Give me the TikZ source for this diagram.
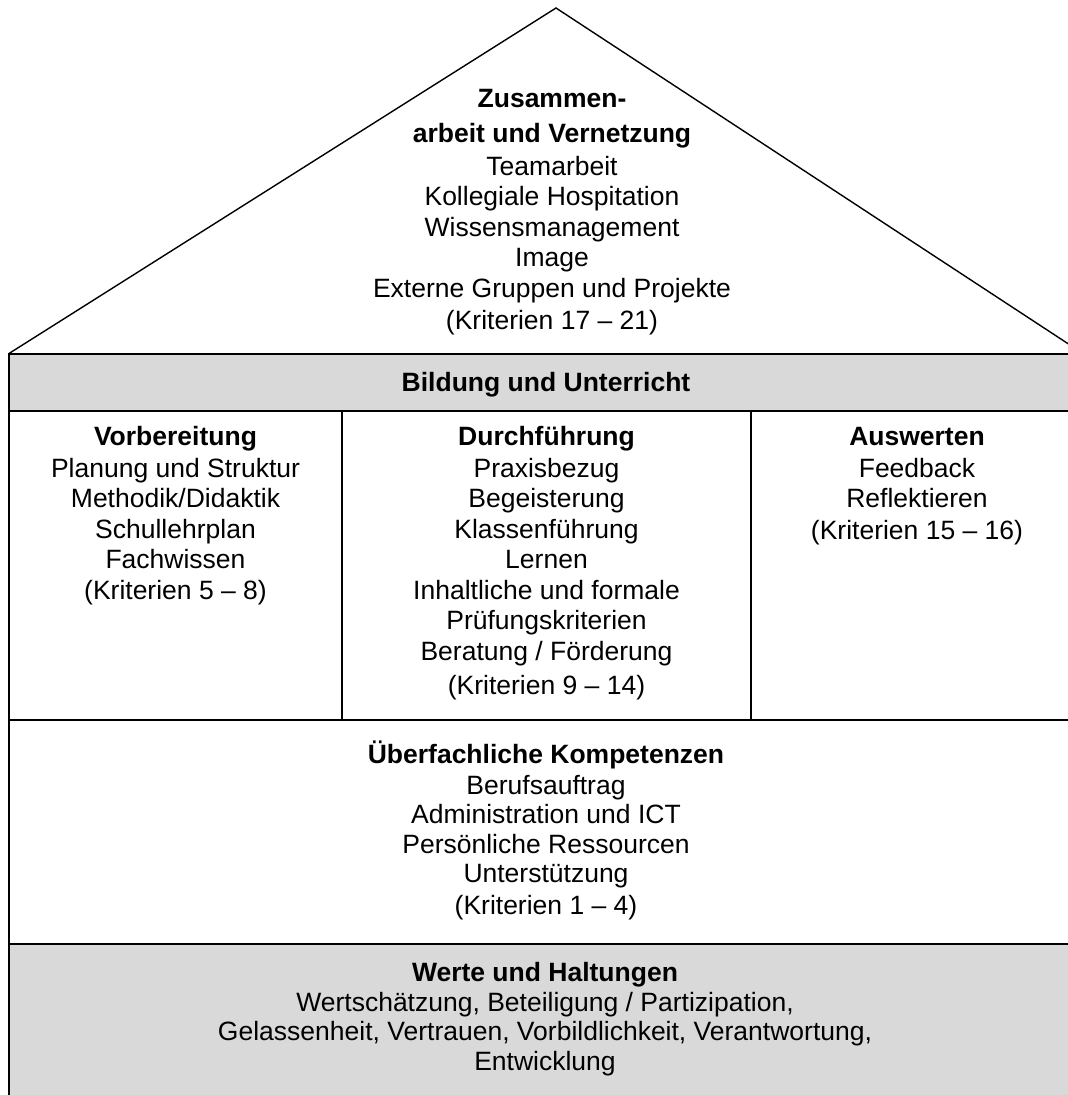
\documentclass[tikz,border=0pt]{standalone}
\usepackage{fontspec}
\setmainfont{Liberation Sans}
\definecolor{bandgray}{RGB}{217,217,217}
\tikzset{
  boxline/.style={line width=2pt, draw=black},
  divline/.style={line width=1.8pt, draw=black},
  roofline/.style={line width=1.4pt, draw=black, line join=miter},
  txt/.style={anchor=base, inner sep=0pt, outer sep=0pt,
    font=\fontsize{26.5}{30.5}\selectfont},
}
\newcommand{\rows}[1]{\begin{tabular}[t]{@{}c@{}}#1\end{tabular}}
\begin{document}
\begin{tikzpicture}[x=1pt,y=-1pt]
\useasboundingbox (0,0) rectangle (1068,1095);
\clip (0,0) rectangle (1068,1095);
\fill[white] (0,0) rectangle (1068,1095);
% roof
\draw[roofline] (9,353.5) -- (556,8) -- (1083,353.5);
% band Bildung
\filldraw[boxline, fill=bandgray] (9,353.5) rectangle (1083,411);
% columns
\draw[boxline] (9,411) rectangle (1083,720);
\draw[divline] (342,411) -- (342,720);
\draw[divline] (751,411) -- (751,720);
% Ueberfachliche
\draw[boxline] (9,720) rectangle (1083,944);
% Werte band
\filldraw[boxline, fill=bandgray] (9,944) rectangle (1083,1120);

\node[txt] (roof) at (552,107) {\rows{\textbf{Zusammen-}\\[4.5pt]
  \textbf{arbeit und Vernetzung}\\[2.5pt]
  Teamarbeit\\ Kollegiale Hospitation\\ Wissensmanagement\\ Image\\
  Externe Gruppen und Projekte\\[1.5pt] (Kriterien 17 – 21)}};
\node[txt] (bildung) at (546,391) {\textbf{Bildung und Unterricht}};
\node[txt] (vorb) at (175.5,445) {\rows{\textbf{Vorbereitung}\\[1.5pt]
  Planung und Struktur\\ Methodik/Didaktik\\ Schullehrplan\\ Fachwissen\\[0.5pt]
  (Kriterien 5 – 8)}};
\node[txt] (durch) at (546.5,445) {\rows{\textbf{Durchführung}\\[1.5pt]
  Praxisbezug\\ Begeisterung\\ Klassenführung\\ Lernen\\
  Inhaltliche und formale\\ Prüfungskriterien\\ Beratung / Förderung\\[4pt]
  (Kriterien 9 – 14)}};
\node[txt] (ausw) at (917,445) {\rows{\textbf{Auswerten}\\[1.5pt]
  Feedback\\ Reflektieren\\[1pt] (Kriterien 15 – 16)}};
\node[txt] (ueber) at (546,763) {\rows{\textbf{Überfachliche Kompetenzen}\\[0.5pt]
  Berufsauftrag\\[-1pt] Administration und ICT\\[-1pt] Persönliche Ressourcen\\[-1pt]
  Unterstützung\\[1pt] (Kriterien 1 – 4)}};
\node[txt] (werte) at (545,981) {\rows{\textbf{Werte und Haltungen}\\[-0.5pt]
  Wertschätzung, Beteiligung / Partizipation,\\[-1pt]
  Gelassenheit, Vertrauen, Vorbildlichkeit, Verantwortung,\\[-1pt]
  Entwicklung}};
\end{tikzpicture}
\end{document}
